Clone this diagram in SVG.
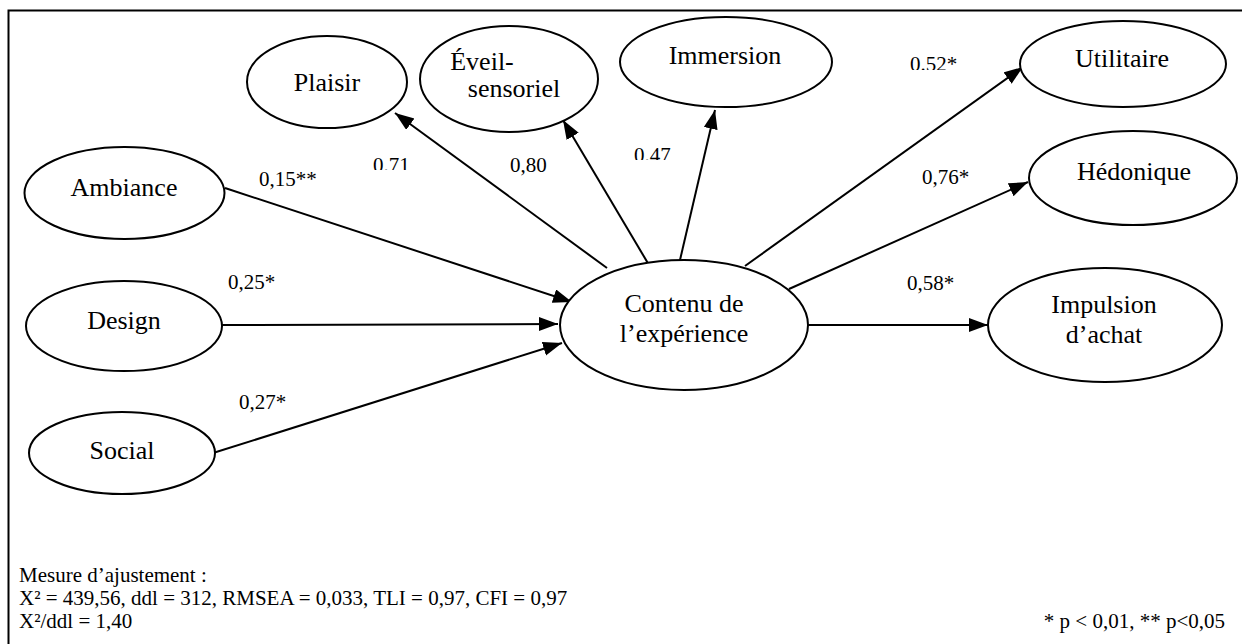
<svg xmlns="http://www.w3.org/2000/svg" width="1242" height="644" viewBox="0 0 1242 644">
<defs>
<style>
.n{fill:#fff;stroke:#000;stroke-width:2}
.c{stroke:#000;stroke-width:2;fill:none}
</style>
<marker id="ah" markerUnits="userSpaceOnUse" markerWidth="20" markerHeight="16" refX="19" refY="7" orient="auto">
<path d="M0,0 L19,7 L0,14 Z" fill="#000"/>
</marker>
<clipPath id="k71"><rect x="360" y="140" width="60" height="30"/></clipPath>
<clipPath id="k47"><rect x="620" y="130" width="60" height="30"/></clipPath>
<clipPath id="k52"><rect x="900" y="40" width="70" height="30"/></clipPath>
</defs>
<rect x="0" y="0" width="1242" height="644" fill="#fff"/>
<rect x="8.5" y="10.5" width="1300" height="700" fill="none" stroke="#000" stroke-width="2"/>

<g id="connectors">
<line class="c" x1="225" y1="188" x2="572" y2="302" marker-end="url(#ah)"/>
<line class="c" x1="221" y1="325" x2="558" y2="324" marker-end="url(#ah)"/>
<line class="c" x1="213" y1="453" x2="562" y2="343" marker-end="url(#ah)"/>
<line class="c" x1="607" y1="268" x2="395" y2="113" marker-end="url(#ah)"/>
<line class="c" x1="649" y1="265" x2="563" y2="120" marker-end="url(#ah)"/>
<line class="c" x1="680" y1="260" x2="715" y2="110" marker-end="url(#ah)"/>
<line class="c" x1="745" y1="266" x2="1023" y2="67" marker-end="url(#ah)"/>
<line class="c" x1="789" y1="289" x2="1028" y2="182" marker-end="url(#ah)"/>
<line class="c" x1="808" y1="325" x2="988" y2="325" marker-end="url(#ah)"/>
</g>

<g font-family="Liberation Serif, Times New Roman, serif" font-size="26" text-anchor="middle" fill="#000">
<g id="ambiance"><ellipse class="n" cx="124.5" cy="193" rx="100" ry="46"/><text x="124" y="196">Ambiance</text></g>
<g id="design"><ellipse class="n" cx="124" cy="326" rx="98" ry="45"/><text x="124" y="329">Design</text></g>
<g id="social"><ellipse class="n" cx="122" cy="453" rx="93" ry="41"/><text x="122" y="459">Social</text></g>
<g id="plaisir"><ellipse class="n" cx="327" cy="82" rx="80" ry="46"/><text x="327" y="91">Plaisir</text></g>
<g id="eveil"><ellipse class="n" cx="509" cy="79" rx="89" ry="53"/><text x="482" y="70">Éveil-</text><text x="514" y="97">sensoriel</text></g>
<g id="immersion"><ellipse class="n" cx="726" cy="62" rx="106" ry="45"/><text x="725" y="64">Immersion</text></g>
<g id="utilitaire"><ellipse class="n" cx="1123" cy="64" rx="103" ry="43"/><text x="1122" y="67">Utilitaire</text></g>
<g id="hedonique"><ellipse class="n" cx="1133" cy="178" rx="104" ry="47"/><text x="1134" y="180">Hédonique</text></g>
<g id="contenu"><ellipse class="n" cx="684" cy="325" rx="124" ry="65"/><text x="684" y="312">Contenu de</text><text x="684" y="342">l’expérience</text></g>
<g id="impulsion"><ellipse class="n" cx="1105" cy="325" rx="117" ry="57"/><text x="1104" y="313">Impulsion</text><text x="1104" y="343">d’achat</text></g>
</g>

<g id="labels" font-family="Liberation Serif, Times New Roman, serif" font-size="21" fill="#000">
<text x="259" y="186">0,15**</text>
<text x="373" y="172" clip-path="url(#k71)">0.71</text>
<text x="510" y="172">0,80</text>
<text x="634" y="162" clip-path="url(#k47)">0.47</text>
<text x="910" y="71" clip-path="url(#k52)">0.52*</text>
<text x="922" y="184">0,76*</text>
<text x="228" y="289">0,25*</text>
<text x="239" y="409">0,27*</text>
<text x="907" y="290">0,58*</text>
</g>

<g id="footer" font-family="Liberation Serif, Times New Roman, serif" font-size="21" fill="#000">
<text x="19" y="582">Mesure d’ajustement :</text>
<text x="19" y="605">X² = 439,56, ddl = 312, RMSEA = 0,033, TLI = 0,97, CFI = 0,97</text>
<text x="19" y="628">X²/ddl = 1,40</text>
<text x="1225" y="628" text-anchor="end">* p &lt; 0,01, ** p&lt;0,05</text>
</g>
</svg>
